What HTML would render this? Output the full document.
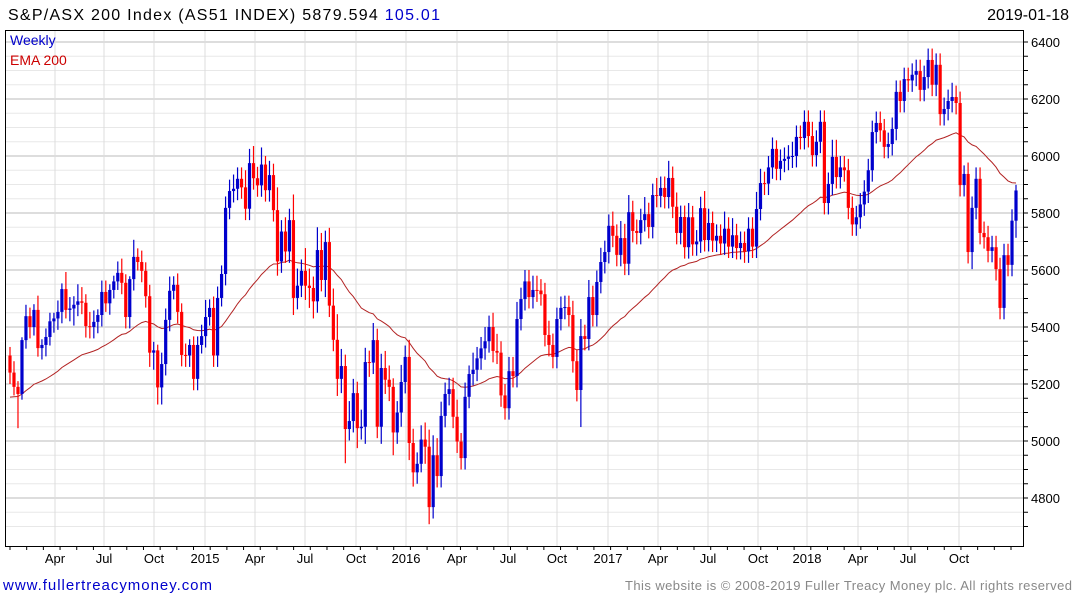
<!DOCTYPE html>
<html><head><meta charset="utf-8">
<style>
body{margin:0;background:#fff;font-family:"Liberation Sans",sans-serif;}
#wrap{position:relative;width:1075px;height:600px;overflow:hidden;background:#fff}
</style></head>
<body>
<div id="wrap">
<svg id="svg" width="1075" height="600" xmlns="http://www.w3.org/2000/svg">
<text x="8" y="20" font-size="16" fill="#000" textLength="432" lengthAdjust="spacing">S&amp;P/ASX 200 Index (AS51 INDEX) 5879.594 <tspan fill="#0000cc">105.01</tspan></text>
<text x="1069" y="20" font-size="16" fill="#000" text-anchor="end">2019-01-18</text>
<g id="grid"></g>
<g id="ema"></g>
<g id="candles"></g>
<rect x="5.5" y="30.5" width="1018" height="516" fill="none" stroke="#000"/>
<g id="axes"></g>
<text x="10" y="45" font-size="14" fill="#0000cc">Weekly</text>
<text x="10" y="65" font-size="14" fill="#cc0000">EMA 200</text>
<text x="3" y="590" font-size="15" fill="#0000cc" textLength="209" lengthAdjust="spacing">www.fullertreacymoney.com</text>
<text x="625" y="590" font-size="13" fill="#888" textLength="447" lengthAdjust="spacing">This website is © 2008-2019 Fuller Treacy Money plc. All rights reserved</text>
</svg>
</div>
<script>
const closes=[5240,5190,5165,5354,5438,5400,5460,5326,5337,5365,5420,5430,5453,5533,5460,5465,5478,5490,5485,5403,5400,5418,5442,5523,5483,5530,5560,5590,5555,5435,5568,5646,5628,5597,5508,5310,5318,5188,5270,5425,5527,5548,5453,5302,5300,5337,5218,5337,5368,5435,5467,5300,
5502,5586,5818,5877,5885,5920,5890,5815,5975,5922,5897,5970,5880,5933,5810,5630,5735,5665,5775,5502,5545,5597,5545,5537,5490,5670,5565,5698,5475,5355,5218,5263,5042,5070,5168,5045,5050,5277,5275,5354,5050,5256,5215,5190,5030,5100,5207,5295,4993,4890,
4920,5005,4980,4768,4950,4877,5088,5165,5182,5085,4998,4940,5155,5235,5250,5290,5325,5350,5400,5316,5310,5160,5115,5245,5228,5428,5498,5560,5505,5530,5528,5515,5372,5337,5295,5428,5467,5470,5442,5280,5179,5368,5358,5505,5442,5558,5628,5663,
5755,5720,5653,5712,5622,5803,5737,5730,5775,5796,5751,5863,5860,5888,5856,5923,5822,5730,5786,5680,5785,5690,5700,5817,5705,5765,5703,5720,5693,5745,5682,5722,5677,5695,5665,5745,5682,5814,5905,5903,5960,6025,5955,5983,5990,5998,6000,6067,6063,6120,6070,6003,6050,6120,5835,5902,5997,5926,5960,5950,5818,5760,5785,5830,5875,5950,6084,6116,6090,6032,6042,6095,6225,6193,6270,6265,6285,6298,6232,6277,6337,6250,6320,6147,6165,6193,6207,6186,5898,5937,5663,5818,5920,5730,5715,5667,5680,5603,5467,5652,5618,5773,5879];
const wickUp=[30,40,20,10,40,30,20,50,20,30,30,20,40,20,60,40,30,60,50,30,50,40,20,40,40,20,20,40,50,30,10,60,30,40,30,40,30,20,40,40,50,30,40,30,40,20,30,30,40,60,30,40,
40,30,40,40,50,40,40,60,50,60,40,60,30,50,40,80,40,50,40,90,60,40,80,60,40,80,60,40,50,60,90,60,40,70,50,40,60,50,40,60,40,50,60,50,30,40,60,40,60,50,
40,50,60,60,70,60,50,40,40,40,60,30,50,30,60,40,40,50,40,50,60,40,40,50,50,60,40,40,40,50,50,40,40,50,40,40,40,40,40,50,40,60,40,60,40,40,50,40,
40,50,40,60,50,60,40,40,40,60,40,40,60,40,40,60,40,50,40,40,50,40,40,40,60,50,40,40,40,60,40,60,40,40,40,40,40,60,50,40,40,40,30,40,40,40,50,40,40,40,40,50,40,40,40,40,60,60,40,40,40,40,40,40,40,40,40,40,40,40,40,40,40,40,40,40,40,40,40,40,40,40,40,40,40,40,50,40,40,30,40,40,40,40,40,40,40,40,40,40,40,40,20];
const wickDn=[40,30,120,20,30,40,30,30,40,40,30,40,40,40,30,40,60,40,40,40,40,40,40,40,30,40,30,30,40,40,40,40,30,40,40,50,60,60,60,40,40,30,40,40,40,40,40,40,30,40,30,40,
40,30,40,40,40,40,40,40,40,40,40,40,40,40,40,50,40,40,40,60,40,40,50,70,60,40,40,60,40,40,60,50,120,40,40,70,40,60,50,40,40,60,50,50,80,40,50,40,60,50,
40,30,60,60,40,40,40,40,40,40,40,40,40,40,40,40,40,40,40,40,40,40,40,40,40,40,40,40,40,40,40,40,40,40,40,40,40,40,40,40,40,130,40,40,40,40,40,40,
40,40,40,40,40,40,40,40,40,40,40,40,40,40,40,40,40,40,40,40,40,40,40,40,40,40,40,40,40,40,40,40,40,40,40,40,40,40,40,40,40,40,40,40,40,40,40,40,40,40,40,40,40,40,40,40,40,40,40,40,40,40,40,40,40,40,40,40,40,40,40,40,40,40,40,40,40,40,40,40,40,40,40,40,40,40,40,40,40,40,40,60,40,40,40,40,40,40,40,40,40,40,60,40,60,40,40,40,40,40,40,50,40,40,60,50,30];
const yTicks=[4800,5000,5200,5400,5600,5800,6000,6200,6400];
const xLabels=["Apr","Jul","Oct","2015","Apr","Jul","Oct","2016","Apr","Jul","Oct","2017","Apr","Jul","Oct","2018","Apr","Jul","Oct"];
const xLabelPos=[55,104,154,205,255,305,356,406,457,508,557,608,658,708,758,807,858,908,959];
const NS='http://www.w3.org/2000/svg';
const yOf=v=>42+(6400-v)*57/200;
const n=closes.length;
const xOf=i=>10+i*(1016-10)/(n-1);
function mk(t,a,p){const e=document.createElementNS(NS,t);for(const k in a)e.setAttribute(k,a[k]);p.appendChild(e);return e;}
const grid=document.getElementById('grid'),axes=document.getElementById('axes');
for(let v=4700;v<=6450;v+=50){const y=yOf(v);if(y<31||y>546)continue;const major=v%200===0;
 const l=mk('line',{x1:6,x2:1023,y1:y,y2:y,stroke:major?'#bbb':'#e8e8e8','stroke-width':1},grid);
 
 
 const t=mk('line',{x1:1023,x2:1028,y1:y,y2:y,stroke:'#000'},axes);
 
 }
yTicks.forEach(v=>{const t=mk('text',{x:1031,y:yOf(v)+5,'font-size':13,fill:'#000'},axes);t.textContent=v;
 
 });
xLabels.forEach((s,i)=>{const x=xLabelPos[i];
 const l=mk('line',{x1:x,x2:x,y1:31,y2:546,stroke:'#ddd'},grid);
 
 
 const t=mk('text',{x:x,y:563,'font-size':13,fill:'#000','text-anchor':'middle'},axes);t.textContent=s;
 
 });
for(let k=0;k<61;k++){const x=10+k*(1016-10)/60.3;const t=mk('line',{x1:x,x2:x,y1:546,y2:550,stroke:'#000'},axes);
 
 }
const cg=document.getElementById('candles');
let ema=5150;const a=2/45;const pts=[];
for(let i=0;i<n;i++){const c=closes[i],o=i?closes[i-1]:5300;const up=c>=o;const col=up?'#0000cc':'#ff0000';
 const x=xOf(i);const hi=Math.max(o,c)+wickUp[i],lo=Math.min(o,c)-wickDn[i];
 const w=mk('line',{x1:x,x2:x,y1:yOf(hi),y2:yOf(lo),stroke:col,'stroke-width':1.2},cg);
 
 
 const yt=yOf(Math.max(o,c)),yb=yOf(Math.min(o,c));
 const b=mk('rect',{x:x-1.6,y:yt,width:3.2,height:Math.max(1,yb-yt),fill:col},cg);
 
 
 ema=ema+a*(c-ema);pts.push(x.toFixed(1)+','+yOf(ema).toFixed(1));}
const el=mk('polyline',{points:pts.join(' '),fill:'none',stroke:'#b22222','stroke-width':1},document.getElementById('ema'));


</script>
</body></html>
